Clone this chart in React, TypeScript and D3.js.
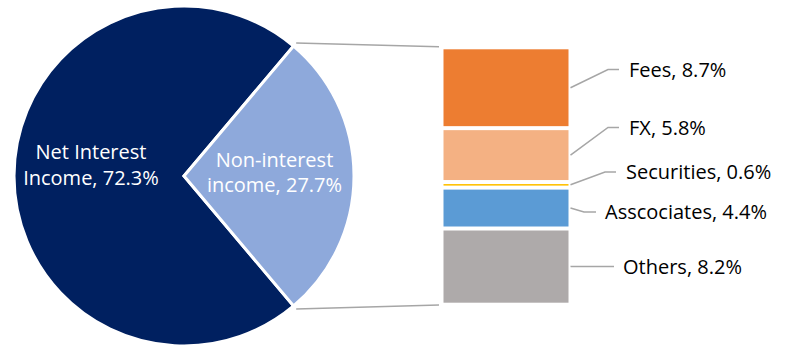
import React from "react";
import * as d3 from "d3";

const pieCategories = ["Net Interest Income", "Non-interest income"];
const pieValues = [72.3, 27.7];
const pieLabelLines = [["Net Interest", "Income, 72.3%"], ["Non-interest", "income, 27.7%"]];
const pieColors = ["#002060", "#8EA9DB"];

const barCategories = ["Fees", "FX", "Securities", "Asscociates", "Others"];
const barValues = [8.7, 5.8, 0.6, 4.4, 8.2];
const barColors = ["#ED7D31", "#F4B183", "#FFC000", "#5B9BD5", "#AEAAAA"];

const W = 786;
const H = 345;
const FONT = "'Open Sans', 'Noto Sans', sans-serif";

export default function App() {
  const cx = 184, cy = 176, r = 170;
  const total = d3.sum(pieValues);
  const nonFrac = pieValues[1] / total;
  const halfSpan = nonFrac * Math.PI;
  const start = Math.PI / 2 + halfSpan;
  const pie = d3.pie<number>().sort(null).startAngle(start).endAngle(start + 2 * Math.PI);
  const arcs = pie(pieValues);
  const arcGen = d3.arc<d3.PieArcDatum<number>>().innerRadius(0).outerRadius(r);

  const barTotal = d3.sum(barValues);
  const y = d3.scaleLinear().domain([0, barTotal]).range([47.3, 304.7]);
  const x0 = 441.5, x1 = 570.5;
  let acc = 0;
  const segs = barValues.map((v, i) => {
    const s = acc;
    acc += v;
    return { v, i, s, e: acc };
  });

  const polar = (ang: number, rad: number) => [cx + rad * Math.sin(ang), cy - rad * Math.cos(ang)];
  const topPt = polar(Math.PI / 2 - halfSpan, r + 4);
  const botPt = polar(Math.PI / 2 + halfSpan, r + 4);

  const labelY = [69.5, 127.5, 172, 212, 266.5];
  const elbowX = [608, 608, 605, 584, 571];
  const lineEndX = [619, 619, 616, 596, 614];
  const textX = [629, 629, 626, 605, 623];

  return (
    <svg width={W} height={H} style={{ position: "absolute", left: 0, top: 0, background: "#fff" }}>
      <g>
        {arcs.map((a, i) => (
          <path key={pieCategories[i]} d={arcGen(a) as string} transform={`translate(${cx},${cy})`}
            fill={pieColors[i]} stroke="#fff" strokeWidth={3} strokeLinejoin="miter" />
        ))}
      </g>
      <line x1={topPt[0]} y1={topPt[1]} x2={439} y2={y(0) - 0.5} stroke="#A6A6A6" strokeWidth={1.5} />
      <line x1={botPt[0]} y1={botPt[1]} x2={439} y2={y(barTotal) + 0.2} stroke="#A6A6A6" strokeWidth={1.5} />
      <g>
        {segs.map(d => (
          <rect key={barCategories[d.i]} x={x0 + 2} width={x1 - x0 - 4}
            y={y(d.s) + 2} height={Math.max(0, y(d.e) - y(d.s) - 4)} fill={barColors[d.i]} />
        ))}
      </g>
      <g>
        {segs.map(d => {
          const my = (y(d.s) + y(d.e)) / 2;
          const i = d.i;
          return (
            <g key={barCategories[i]}>
              <polyline points={`${x1},${my} ${elbowX[i]},${labelY[i]} ${lineEndX[i]},${labelY[i]}`}
                fill="none" stroke="#A6A6A6" strokeWidth={1.5} />
              <text x={textX[i]} y={labelY[i]} dy="0.35em" fontFamily={FONT} fontSize={20} fill="#000">
                {`${barCategories[i]}, ${d3.format(".1f")(barValues[i])}%`}
              </text>
            </g>
          );
        })}
      </g>
      <g fontFamily={FONT} fontSize={20} fill="#fff" textAnchor="middle">
        <text x={91} y={152} dy="0.35em">{pieLabelLines[0][0]}</text>
        <text x={91} y={178} dy="0.35em">{pieLabelLines[0][1]}</text>
        <text x={274.5} y={160} dy="0.35em">{pieLabelLines[1][0]}</text>
        <text x={274.5} y={185} dy="0.35em">{pieLabelLines[1][1]}</text>
      </g>
    </svg>
  );
}
